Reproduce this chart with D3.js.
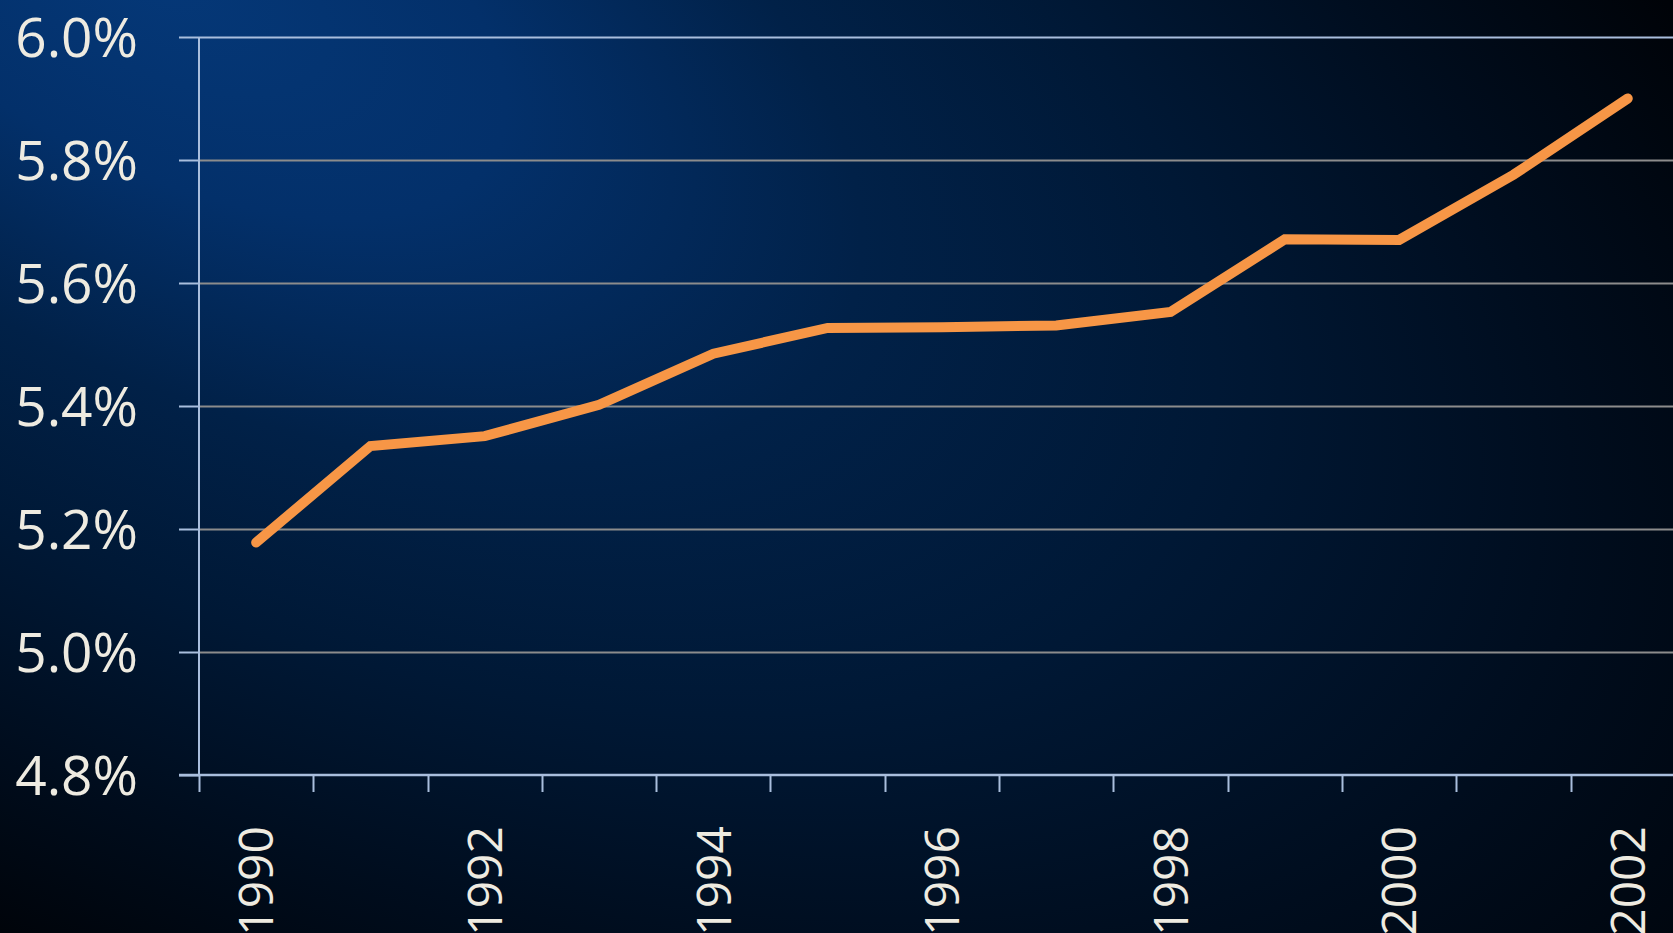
<!DOCTYPE html>
<html>
<head>
<meta charset="utf-8">
<script src="https://cdn.jsdelivr.net/npm/d3@7"></script>
<style>
  html, body { margin: 0; padding: 0; background: #000; overflow: hidden; }
  svg { display: block; }
</style>
</head>
<body>
<svg width="1673" height="933"></svg>
<script>
// unemployment style rate, 1990 - 2002
const years = [1990, 1991, 1992, 1993, 1994, 1995, 1996, 1997, 1998, 1999, 2000, 2001, 2002];
const rates = [5.178, 5.335, 5.351, 5.402, 5.485, 5.527, 5.528, 5.531, 5.553, 5.671, 5.670, 5.776, 5.900];
const yTicks = [4.8, 5.0, 5.2, 5.4, 5.6, 5.8, 6.0];
const xLabels = [1990, 1992, 1994, 1996, 1998, 2000, 2002];

const svg = d3.select('svg');
const W = 1673, H = 933;

// background glow from the top left, tilted ellipse
const defs = svg.append('defs');
const grad = defs.append('radialGradient')
    .attr('id', 'bg')
    .attr('gradientUnits', 'userSpaceOnUse')
    .attr('cx', 0).attr('cy', 0).attr('r', 1)
    .attr('gradientTransform', 'translate(150,-30) rotate(28) scale(1950,950)');
grad.append('stop').attr('offset', 0).attr('stop-color', '#053878');
grad.append('stop').attr('offset', 0.2).attr('stop-color', '#03306a');
grad.append('stop').attr('offset', 0.4).attr('stop-color', '#012148');
grad.append('stop').attr('offset', 0.6).attr('stop-color', '#001835');
grad.append('stop').attr('offset', 0.8).attr('stop-color', '#000d1e');
grad.append('stop').attr('offset', 1).attr('stop-color', '#000308');
svg.append('rect').attr('width', W).attr('height', H).attr('fill', 'url(#bg)');

const plotLeft = 199, plotTop = 37, plotBottom = 775;
const step = 114.3;

//scales
const xScale = d3.scaleBand()
    .domain(years)
    .range([plotLeft, plotLeft + step * years.length]);
const yScale = d3.scaleLinear()
    .domain([4.8, 6.0])
    .range([plotBottom, plotTop]);

const axisColor = '#a9bedd';
const textColor = '#eeebe1';

//gridlines
svg.append('g')
  .selectAll('line')
  .data(yTicks.filter(d => d > 4.8))
  .enter()
  .append('line')
    .attr('x1', plotLeft).attr('x2', W)
    .attr('y1', d => Math.round(yScale(d)) + 0.5)
    .attr('y2', d => Math.round(yScale(d)) + 0.5)
    .attr('stroke', d => d === 6.0 ? axisColor : '#8c8c8c')
    .attr('stroke-width', 2);

//y axis with ticks
const yAxis = svg.append('g');
yAxis.append('line')
    .attr('x1', plotLeft).attr('x2', plotLeft)
    .attr('y1', yScale(6.0)).attr('y2', yScale(4.8))
    .attr('stroke', axisColor).attr('stroke-width', 2);
yAxis.selectAll('.tick')
  .data(yTicks)
  .enter()
  .append('line')
    .attr('x1', plotLeft - 20).attr('x2', plotLeft)
    .attr('y1', d => Math.round(yScale(d)) + 0.5)
    .attr('y2', d => Math.round(yScale(d)) + 0.5)
    .attr('stroke', axisColor).attr('stroke-width', 2);
yAxis.selectAll('text')
  .data(yTicks)
  .enter()
  .append('text')
    .text(d => d.toFixed(1) + '%')
    .attr('x', 138)
    .attr('y', d => yScale(d))
    .attr('dy', '0.36em')
    .attr('text-anchor', 'end')
    .attr('fill', textColor)
    .attr('font-size', 55)
    .attr('font-family', '"Open Sans", "Noto Sans", sans-serif');

//x axis
const xAxis = svg.append('g');
xAxis.append('line')
    .attr('x1', plotLeft - 20).attr('x2', W)
    .attr('y1', plotBottom).attr('y2', plotBottom)
    .attr('stroke', axisColor).attr('stroke-width', 2.5);
xAxis.selectAll('.tick')
  .data(years)
  .enter()
  .append('line')
    .attr('x1', d => Math.round(xScale(d)) + 0.5)
    .attr('x2', d => Math.round(xScale(d)) + 0.5)
    .attr('y1', plotBottom).attr('y2', plotBottom + 17)
    .attr('stroke', axisColor).attr('stroke-width', 2);
xAxis.selectAll('text')
  .data(xLabels)
  .enter()
  .append('text')
    .text(d => d)
    .attr('transform', d => `translate(${xScale(d) + xScale.bandwidth() / 2},826) rotate(-90)`)
    .attr('dy', '0.36em')
    .attr('text-anchor', 'end')
    .attr('fill', textColor)
    .attr('font-size', 48)
    .attr('font-family', '"Open Sans", "Noto Sans", sans-serif');

//the line itself
const line = d3.line()
    .x((d, i) => xScale(years[i]) + xScale.bandwidth() / 2)
    .y(d => yScale(d));
svg.append('path')
    .datum(rates)
    .attr('d', line)
    .attr('fill', 'none')
    .attr('stroke', '#f79646')
    .attr('stroke-width', 10)
    .attr('stroke-linecap', 'round')
    .attr('stroke-linejoin', 'miter');
</script>
</body>
</html>
